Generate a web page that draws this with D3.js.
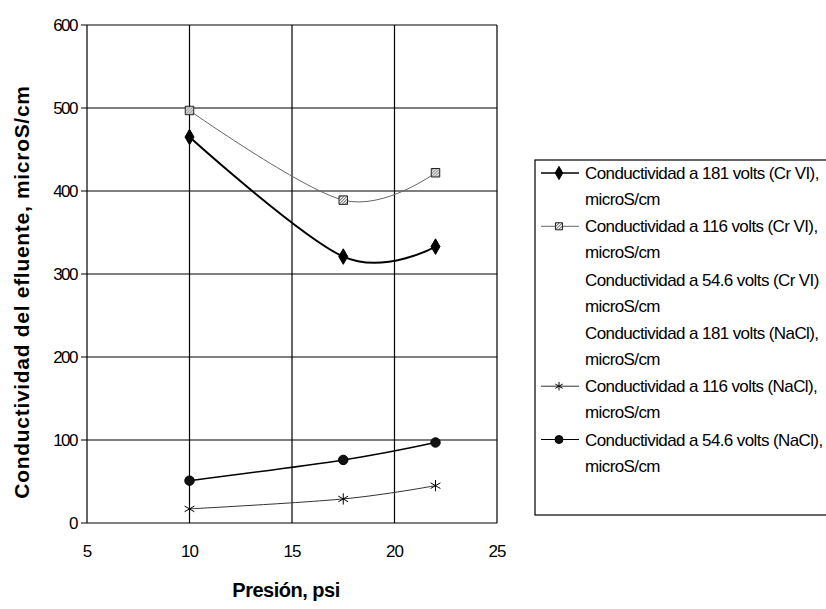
<!DOCTYPE html>
<html>
<head>
<meta charset="utf-8">
<script src="https://cdn.jsdelivr.net/npm/d3@7"></script>
<style>
  body { margin: 0; background: #fff; }
  svg { font-family: "Liberation Sans", Arial, sans-serif; }
</style>
</head>
<body>
<div id="chart"></div>
<script>
// Conductividad del efluente vs presion

const presion = [10, 17.5, 22];
const seriesNames = [
    'Conductividad a 181 volts (Cr VI),',
    'Conductividad a 116 volts (Cr VI),',
    'Conductividad a 54.6 volts (Cr VI)',
    'Conductividad a 181 volts (NaCl),',
    'Conductividad a 116 volts (NaCl),',
    'Conductividad a 54.6 volts (NaCl),'
];
const cond181Cr = [465, 321, 333];
const cond116Cr = [497, 389, 422];
const cond546Cr = [];
const cond181NaCl = [];
const cond116NaCl = [17, 29, 45];
const cond546NaCl = [51, 76, 97];
const xTicks = [5, 10, 15, 20, 25];
const yTicks = [0, 100, 200, 300, 400, 500, 600];

const W = 826, H = 609;
const svg = d3.select('#chart').append('svg').attr('width', W).attr('height', H);

const defs = svg.append('defs');
const hatch = defs.append('pattern')
    .attr('id', 'hatch')
    .attr('patternUnits', 'userSpaceOnUse')
    .attr('width', 3).attr('height', 3);
hatch.append('rect').attr('width', 3).attr('height', 3).attr('fill', '#fff');
hatch.append('path').attr('d', 'M0,3 L3,0').attr('stroke', '#444').attr('stroke-width', 1);

const x = d3.scaleLinear().domain([5, 25]).range([87, 497]);
const y = d3.scaleLinear().domain([0, 600]).range([523, 25]);

// grid
const grid = svg.append('g');
grid.selectAll('line.h').data(yTicks).enter().append('line')
    .attr('x1', x(5) - 6).attr('x2', x(25))
    .attr('y1', d => y(d)).attr('y2', d => y(d))
    .attr('stroke', '#000').attr('stroke-width', 1.2);
grid.selectAll('line.v').data(xTicks).enter().append('line')
    .attr('y1', y(0)).attr('y2', y(600))
    .attr('x1', d => x(d)).attr('x2', d => x(d))
    .attr('stroke', '#000').attr('stroke-width', 1.2);

// tick labels
svg.append('g').selectAll('text').data(yTicks).enter().append('text')
    .attr('x', 77).attr('y', d => y(d) + 6)
    .attr('text-anchor', 'end')
    .style('font-size', '17px').style('letter-spacing', '-1.5px')
    .text(d => d);
svg.append('g').selectAll('text').data(xTicks).enter().append('text')
    .attr('x', d => x(d)).attr('y', 557)
    .attr('text-anchor', 'middle')
    .style('font-size', '17px').style('letter-spacing', '-1px')
    .text(d => d);

// axis titles
svg.append('text')
    .attr('transform', `translate(29, 292) rotate(-90)`)
    .attr('text-anchor', 'middle')
    .style('font-size', '21px').style('font-weight', 'bold')
    .style('letter-spacing', '0.7px')
    .text('Conductividad del efluente, microS/cm');
svg.append('text')
    .attr('x', 286).attr('y', 597)
    .attr('text-anchor', 'middle')
    .style('font-size', '20px').style('font-weight', 'bold')
    .style('letter-spacing', '-0.5px')
    .text('Presión, psi');

const diamond = d3.symbol().type(d3.symbolDiamond).size(70);
const square = d3.symbol().type(d3.symbolSquare).size(72);
const star = d3.symbol().type(d3.symbolAsterisk).size(90);
const circle = d3.symbol().type(d3.symbolCircle).size(70);

const series = [
    { name: seriesNames[0], values: cond181Cr, stroke: '#000', width: 2, symbol: diamond, fill: '#000', mStroke: '#000' },
    { name: seriesNames[1], values: cond116Cr, stroke: '#666', width: 1, symbol: square, fill: 'url(#hatch)', mStroke: '#222' },
    { name: seriesNames[2], values: cond546Cr, stroke: 'none', width: 0, symbol: null },
    { name: seriesNames[3], values: cond181NaCl, stroke: 'none', width: 0, symbol: null },
    { name: seriesNames[4], values: cond116NaCl, stroke: '#333', width: 1, symbol: star, fill: 'none', mStroke: '#000' },
    { name: seriesNames[5], values: cond546NaCl, stroke: '#000', width: 1.5, symbol: circle, fill: '#111', mStroke: '#000' }
];

const line = d3.line()
    .x((d, i) => x(presion[i]))
    .y(d => y(d))
    .curve(d3.curveCardinal.tension(0));

const plot = svg.append('g');
series.forEach(s => {
    if (!s.values.length) return;
    plot.append('path')
        .attr('d', line(s.values))
        .attr('fill', 'none')
        .attr('stroke', s.stroke)
        .attr('stroke-width', s.width);
    plot.selectAll(null).data(s.values).enter().append('path')
        .attr('transform', (d, i) => `translate(${x(presion[i])},${y(d)})`)
        .attr('d', s.symbol)
        .attr('fill', s.fill)
        .attr('stroke', s.mStroke)
        .attr('stroke-width', 1);
});

// legend
const legend = svg.append('g');
legend.append('rect')
    .attr('x', 535).attr('y', 160).attr('width', 300).attr('height', 355)
    .attr('fill', '#fff').attr('stroke', '#000').attr('stroke-width', 1.2);

const items = legend.selectAll('g.item').data(series).enter().append('g')
    .attr('transform', (d, i) => `translate(0, ${173 + i * 53.3})`);
items.filter(d => d.symbol).append('line')
    .attr('x1', 541).attr('x2', 579).attr('y1', 0).attr('y2', 0)
    .attr('stroke', d => d.stroke).attr('stroke-width', d => Math.max(1, d.width * 0.8));
items.filter(d => d.symbol).append('path')
    .attr('transform', 'translate(559,0)')
    .attr('d', d => d.symbol.size(50)())
    .attr('fill', d => d.fill).attr('stroke', d => d.mStroke).attr('stroke-width', 1);
items.append('text')
    .attr('x', 585).attr('y', 6)
    .style('font-size', '17px').style('letter-spacing', '-0.6px')
    .text(d => d.name);
items.append('text')
    .attr('x', 585).attr('y', 32)
    .style('font-size', '17px').style('letter-spacing', '-0.6px')
    .text('microS/cm');
</script>
</body>
</html>
